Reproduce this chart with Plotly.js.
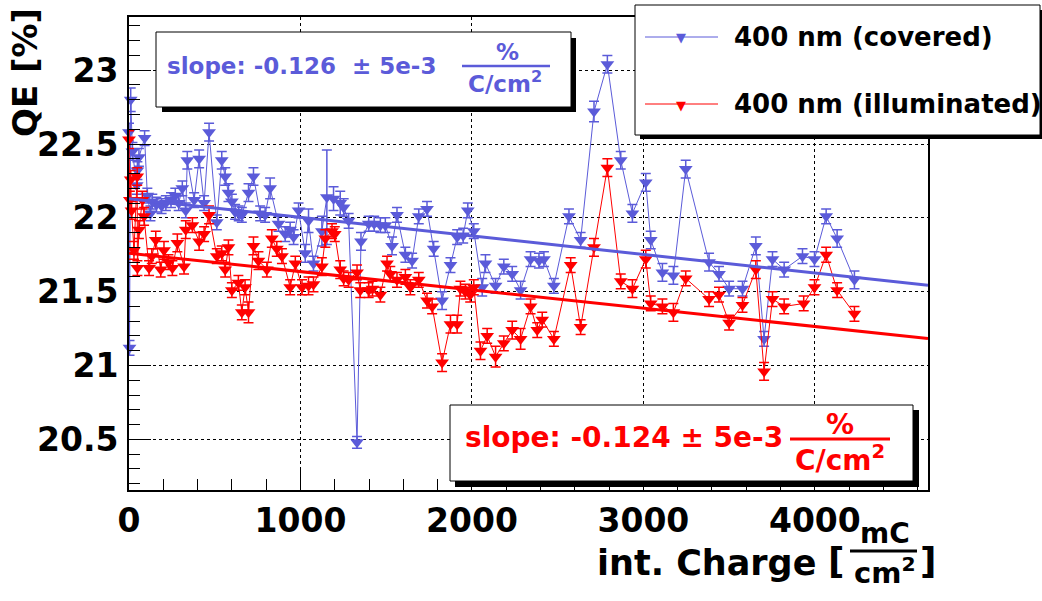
<!DOCTYPE html>
<html>
<head>
<meta charset="utf-8">
<script src="https://cdn.plot.ly/plotly-3.0.1.min.js"></script>
<style>
html,body{margin:0;padding:0;background:#fff;}
#chart{width:1042px;height:601px;}
</style>
</head>
<body>
<div id="chart"></div>
<script>
// ---------------- DATA ----------------
const coveredX = [0, 3, 10, 20, 45, 49, 58, 91, 107, 125,
  136, 160, 190, 215, 245, 270, 290, 311, 331, 340,
  380, 409, 438, 467, 512, 541, 561, 580, 600, 619,
  640, 658, 697, 726, 765, 794, 823, 872, 911, 940,
  960, 989, 1028, 1047, 1076, 1125, 1154, 1193, 1232, 1252,
  1281, 1330, 1353, 1398, 1430, 1466, 1495, 1534, 1563, 1612,
  1651, 1690, 1738, 1777, 1826, 1875, 1914, 1949, 1976, 2011,
  2060, 2079, 2138, 2186, 2235, 2284, 2342, 2391, 2420, 2478,
  2566, 2634, 2712, 2790, 2868, 2936, 3014, 3043, 3111, 3175,
  3247, 3383, 3441, 3500, 3578, 3656, 3704, 3753, 3821, 3928,
  3998, 4066, 4130, 4231];
const coveredQE = [22.58, 21.12, 22.80, 22.45, 22.22, 22.32, 22.41, 22.54, 22.15, 22.03,
  22.11, 22.09, 22.08, 22.10, 22.12, 22.15, 22.10, 22.20, 22.05, 22.39,
  22.12, 22.40, 22.10, 22.58, 21.97, 22.39, 22.28, 22.17, 22.11, 22.04,
  22.03, 22.02, 22.17, 22.28, 22.03, 22.02, 22.20, 21.96, 21.89, 21.92,
  21.87, 22.05, 21.76, 21.98, 21.69, 21.91, 22.14, 22.13, 22.10, 22.07,
  21.98, 20.48, 21.84, 21.96, 21.96, 21.95, 21.95, 21.81, 22.02, 21.75,
  21.71, 22.01, 22.06, 21.79, 21.44, 21.68, 21.87, 21.88, 22.05, 21.91,
  21.53, 21.69, 21.54, 21.67, 21.62, 21.51, 21.72, 21.71, 21.72, 21.54,
  22.01, 21.85, 22.72, 23.04, 22.39, 22.03, 22.24, 21.85, 21.63, 21.61,
  22.33, 21.70, 21.62, 21.52, 21.52, 21.81, 21.18, 21.72, 21.65, 21.74,
  21.72, 22.01, 21.86, 21.58];
const coveredErr = [0.06, 0.05, 0.08, 0.06, 0.06, 0.06, 0.06, 0.05, 0.05, 0.05,
  0.05, 0.05, 0.05, 0.05, 0.05, 0.05, 0.05, 0.05, 0.05, 0.06,
  0.05, 0.06, 0.05, 0.06, 0.05, 0.06, 0.06, 0.06, 0.05, 0.05,
  0.05, 0.05, 0.06, 0.06, 0.05, 0.05, 0.07, 0.05, 0.05, 0.05,
  0.05, 0.05, 0.06, 0.08, 0.05, 0.10, 0.32, 0.08, 0.08, 0.06,
  0.05, 0.04, 0.06, 0.05, 0.05, 0.05, 0.05, 0.06, 0.05, 0.05,
  0.05, 0.05, 0.05, 0.05, 0.06, 0.05, 0.05, 0.05, 0.05, 0.05,
  0.06, 0.06, 0.05, 0.05, 0.05, 0.06, 0.05, 0.05, 0.05, 0.05,
  0.05, 0.05, 0.07, 0.06, 0.06, 0.06, 0.06, 0.06, 0.06, 0.06,
  0.06, 0.06, 0.05, 0.05, 0.05, 0.06, 0.05, 0.05, 0.05, 0.05,
  0.05, 0.05, 0.06, 0.06];

const illumX = [0, 5, 10, 15, 29, 48, 49, 58, 78, 88,
  117, 133, 156, 185, 204, 230, 253, 282, 321, 331,
  370, 409, 438, 467, 512, 541, 561, 580, 600, 638,
  658, 677, 697, 726, 755, 804, 833, 862, 892, 940,
  970, 1009, 1047, 1076, 1125, 1145, 1184, 1200, 1232, 1252,
  1281, 1330, 1349, 1398, 1420, 1466, 1505, 1524, 1563, 1612,
  1641, 1690, 1738, 1768, 1826, 1875, 1914, 1933, 1962, 1990,
  2011, 2050, 2089, 2138, 2186, 2235, 2284, 2342, 2381, 2410,
  2478, 2576, 2634, 2712, 2790, 2868, 2936, 3014, 3043, 3111,
  3175, 3247, 3383, 3441, 3500, 3578, 3656, 3704, 3753, 3821,
  3935, 3998, 4066, 4130, 4231];
const illumQE = [22.53, 22.12, 22.26, 22.05, 21.78, 22.28, 21.66, 21.92, 22.12, 22.01,
  21.66, 21.74, 21.85, 21.65, 21.78, 21.70, 21.66, 21.83, 21.67, 21.92,
  21.95, 21.84, 21.89, 22.02, 21.74, 21.76, 21.65, 21.80, 21.51, 21.56,
  21.36, 21.53, 21.36, 21.81, 21.71, 21.65, 21.86, 21.79, 21.74, 21.53,
  21.69, 21.53, 21.54, 21.55, 21.67, 21.86, 21.91, 21.89, 21.65, 21.59,
  21.58, 21.63, 21.51, 21.51, 21.52, 21.48, 21.69, 21.62, 21.58, 21.60,
  21.53, 21.58, 21.44, 21.40, 21.02, 21.28, 21.28, 21.52, 21.50, 21.48,
  21.53, 21.10, 21.20, 21.06, 21.15, 21.24, 21.18, 21.40, 21.24, 21.31,
  21.18, 21.68, 21.26, 21.80, 22.34, 21.57, 21.52, 21.72, 21.42, 21.40,
  21.36, 21.59, 21.45, 21.48, 21.29, 21.41, 21.65, 20.96, 21.45, 21.40,
  21.42, 21.53, 21.75, 21.51, 21.35];
const illumErr = [0.06, 0.06, 0.06, 0.06, 0.06, 0.06, 0.05, 0.06, 0.06, 0.06,
  0.05, 0.05, 0.06, 0.05, 0.06, 0.05, 0.05, 0.06, 0.05, 0.06,
  0.05, 0.06, 0.05, 0.06, 0.05, 0.05, 0.05, 0.05, 0.05, 0.05,
  0.05, 0.05, 0.07, 0.06, 0.06, 0.05, 0.06, 0.05, 0.05, 0.05,
  0.05, 0.05, 0.06, 0.05, 0.06, 0.06, 0.05, 0.05, 0.06, 0.05,
  0.05, 0.05, 0.05, 0.05, 0.05, 0.05, 0.05, 0.05, 0.05, 0.05,
  0.05, 0.05, 0.05, 0.05, 0.06, 0.06, 0.06, 0.05, 0.05, 0.05,
  0.05, 0.06, 0.05, 0.07, 0.05, 0.06, 0.07, 0.05, 0.05, 0.05,
  0.05, 0.05, 0.05, 0.06, 0.06, 0.05, 0.06, 0.06, 0.05, 0.05,
  0.06, 0.05, 0.05, 0.05, 0.05, 0.05, 0.06, 0.06, 0.05, 0.05,
  0.05, 0.05, 0.05, 0.05, 0.05];

// linear fits: QE = intercept + slope * charge[C/cm2]
const seriesNames = ['400 nm (covered)', '400 nm (illuminated)'];
const fitSlope = [-0.126, -0.124];        // % per C/cm^2
const fitIntercept = [22.13, 21.76];      // %
const fitRange = [0, 4660];               // mC/cm^2
const slopeLabels = ['slope: -0.126  \u00b1 5e-3', 'slope: -0.124 \u00b1 5e-3'];
const yTicks = [20.5, 21, 21.5, 22, 22.5, 23];
const xTicks = [0, 1000, 2000, 3000, 4000];

// ---------------- STYLE ----------------
const BLUE = '#5b5bd9';
const RED = '#ff0000';
const FONT = 'DejaVu Sans, Liberation Sans, Arial, sans-serif';
const L = 129, R = 928, T = 17, B = 490;
const px = v => (v - L) / (R - L);
const py = v => (B - v) / (B - T);

function fitLine(i) {
  return {
    x: fitRange.slice(),
    y: fitRange.map(c => fitIntercept[i] + fitSlope[i] * c / 1000)
  };
}

function dataTrace(x, y, e, color, name) {
  return {
    type: 'scatter', mode: 'lines+markers', name: name,
    x: x, y: y,
    line: {color: color, width: 1},
    marker: {symbol: 'triangle-down', size: 12, color: color},
    error_y: {type: 'data', array: e, visible: true, color: color, thickness: 1.5, width: 5},
    cliponaxis: false,
    showlegend: false
  };
}

const fb = fitLine(0), fr = fitLine(1);
const traces = [
  dataTrace(coveredX, coveredQE, coveredErr, BLUE, seriesNames[0]),
  dataTrace(illumX, illumQE, illumErr, RED, seriesNames[1]),
  {type: 'scatter', mode: 'lines', x: fb.x, y: fb.y, line: {color: BLUE, width: 3}, showlegend: false, hoverinfo: 'skip'},
  {type: 'scatter', mode: 'lines', x: fr.x, y: fr.y, line: {color: RED, width: 3}, showlegend: false, hoverinfo: 'skip'}
];

function ann(text, x, y, size, color, xanchor, extra) {
  return Object.assign({
    text: text, xref: 'paper', yref: 'paper', x: px(x), y: py(y),
    xanchor: xanchor || 'center', yanchor: 'middle', showarrow: false,
    font: {family: FONT, size: size, color: color || '#000', weight: 'bold'}
  }, extra || {});
}
function rect(x0, y0, x1, y1, fill, lw) {
  return {type: 'rect', xref: 'paper', yref: 'paper', layer: 'above',
    x0: px(x0), x1: px(x1), y0: py(y0), y1: py(y1),
    fillcolor: fill, line: {color: '#000', width: lw}};
}
function hline(x0, x1, y, color, w) {
  return {type: 'line', xref: 'paper', yref: 'paper', layer: 'above',
    x0: px(x0), x1: px(x1), y0: py(y), y1: py(y), line: {color: color, width: w}};
}

const shapes = [
  // blue slope box
  rect(162, 38, 576, 112, '#000', 0),
  rect(156, 32, 571, 107, '#fff', 1),
  hline(462, 550, 66, BLUE, 2.5),
  // red slope box
  rect(455, 410, 919, 487, '#000', 0),
  rect(450, 405, 913, 481, '#fff', 1),
  hline(790, 890, 439, RED, 3),
  // legend box
  rect(640, 10, 1050, 139, '#000', 0),
  rect(635, 5, 1040, 135, '#fff', 1),
  hline(645, 718, 37, BLUE, 1),
  hline(645, 718, 104, RED, 1),
  // x title fraction bar
  hline(850, 917, 551, '#000', 3)
];

const annotations = [
  ann('QE [%]', 25, 73, 34, '#000', 'center', {textangle: -90}),
  ann('int. Charge', 818, 563, 35, '#000', 'right'),
  ann('[', 836, 560, 36, '#000', 'center'),
  ann('mC', 885, 533, 28, '#000', 'center'),
  ann('cm<sup>2</sup>', 885, 571, 29, '#000', 'center'),
  ann(']', 928, 560, 36, '#000', 'center'),
  ann(slopeLabels[0], 165, 66, 23, BLUE, 'left'),
  ann('%', 507, 52, 23, BLUE, 'center'),
  ann('C/cm<sup>2</sup>', 505, 82, 23, BLUE, 'center'),
  ann(slopeLabels[1], 463, 437, 28, RED, 'left'),
  ann('%', 840, 424, 28, RED, 'center'),
  ann('C/cm<sup>2</sup>', 840, 458, 28, RED, 'center'),
  ann('\u25BC', 681, 38, 13, BLUE, 'center'),
  ann('\u25BC', 681, 105, 13, RED, 'center'),
  ann(seriesNames[0], 732, 37, 26, '#000', 'left'),
  ann(seriesNames[1], 732, 104, 26, '#000', 'left')
];

const axisCommon = {
  showline: true, linecolor: '#000', linewidth: 2, mirror: true,
  ticks: 'inside', ticklen: 22, tickwidth: 1, tickcolor: '#000',
  showgrid: true, gridcolor: '#000', griddash: 'dot', gridwidth: 1,
  zeroline: false,
  tickfont: {family: FONT, size: 33, color: '#000', weight: 'bold'}
};

const layout = {
  width: 1042, height: 601,
  margin: {l: L, r: 1042 - R, t: T, b: 601 - B, pad: 0},
  paper_bgcolor: '#fff', plot_bgcolor: '#fff',
  showlegend: false,
  xaxis: Object.assign({}, axisCommon, {
    range: fitRange.slice(), tickmode: 'array', tickvals: xTicks, ticktext: xTicks.map(String),
    ticklabelstandoff: 0,
    minor: {ticks: 'inside', ticklen: 11, tickwidth: 1, tickcolor: '#000', dtick: 200, tick0: 0, showgrid: false}
  }),
  yaxis: Object.assign({}, axisCommon, {
    range: [20.157, 23.36], tickmode: 'array', tickvals: yTicks, ticktext: yTicks.map(String),
    ticklabelstandoff: 2,
    minor: {ticks: 'inside', ticklen: 11, tickwidth: 1, tickcolor: '#000', dtick: 0.1, tick0: 20.5, showgrid: false}
  }),
  shapes: shapes,
  annotations: annotations
};

Plotly.newPlot('chart', traces, layout, {staticPlot: true, displayModeBar: false});
</script>
</body>
</html>
